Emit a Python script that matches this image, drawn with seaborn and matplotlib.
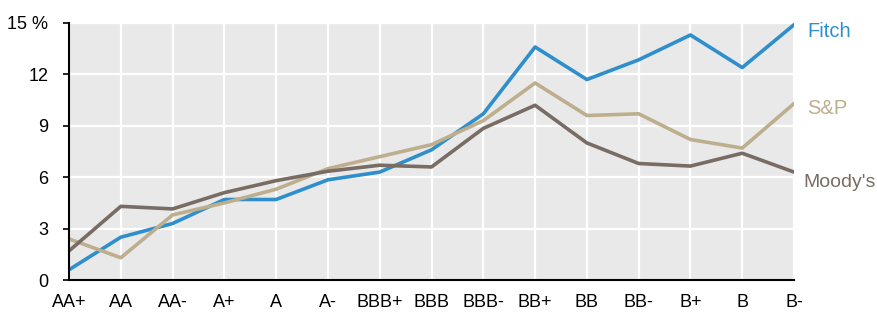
import numpy as np
import pandas as pd
import matplotlib.pyplot as plt
import seaborn as sns

# ratings on the x axis
ratings = ['AA+', 'AA', 'AA-', 'A+', 'A', 'A-', 'BBB+', 'BBB', 'BBB-',
           'BB+', 'BB', 'BB-', 'B+', 'B', 'B-']

fitch = [0.6, 2.5, 3.3, 4.7, 4.7, 5.85, 6.3, 7.6, 9.7, 13.6, 11.7, 12.85, 14.3, 12.4, 14.9]
sp = [2.4, 1.3, 3.8, 4.5, 5.3, 6.5, 7.2, 7.9, 9.3, 11.5, 9.6, 9.7, 8.2, 7.7, 10.3]
moodys = [1.7, 4.3, 4.15, 5.1, 5.8, 6.35, 6.7, 6.6, 8.85, 10.2, 8.0, 6.8, 6.65, 7.4, 6.3]

agencies = ['Fitch', 'S&P', "Moody's"]
colors = {'Fitch': '#2E8FCC', 'S&P': '#BDAE8E', "Moody's": '#786C64'}

yticks = [0, 3, 6, 9, 12, 15]
ytick_labels = ['0', '3', '6', '9', '12', '15 %']

df = pd.DataFrame({'pos': list(range(len(ratings))) * 3,
                   'value': fitch + sp + moodys,
                   'agency': np.repeat(agencies, len(ratings))})

sns.set_style('whitegrid', {'axes.facecolor': '#E9E9E9', 'grid.color': 'white'})
plt.rcParams['font.family'] = ['Liberation Sans', 'DejaVu Sans']

fig = plt.figure(figsize=(8.77, 3.15), dpi=100)
ax = fig.add_axes([0.0787, 0.111, 0.8267, 0.816])

sns.lineplot(data=df, x='pos', y='value', hue='agency', palette=colors,
             hue_order=agencies, linewidth=2.6, legend=False, ax=ax)

ax.set_xlim(0, len(ratings) - 1)
ax.set_ylim(0, 15)
ax.set_xticks(range(len(ratings)))
ax.set_xticklabels(ratings)
ax.set_yticks(yticks)
ax.set_yticklabels(ytick_labels)
ax.set_xlabel('')
ax.set_ylabel('')
ax.grid(True, color='white', linewidth=1.6)
ax.tick_params(axis='x', length=0, pad=10, labelsize=13, labelcolor='black')
ax.tick_params(axis='y', length=4, width=1.2, color='black', pad=11, labelsize=13,
               labelcolor='black', direction='out', left=True)

for side in ['top', 'right']:
    ax.spines[side].set_visible(False)
for side in ['left', 'bottom']:
    ax.spines[side].set_visible(True)
    ax.spines[side].set_color('black')
    ax.spines[side].set_linewidth(1.5)

# end labels next to the lines
last = len(ratings) - 1
ax.text(last + 0.25, 14.5, 'Fitch', color=colors['Fitch'], fontsize=14.5, va='center')
ax.text(last + 0.25, 10.0, 'S&P', color=colors['S&P'], fontsize=14.5, va='center')
ax.text(last + 0.18, 5.7, "Moody's", color=colors["Moody's"], fontsize=14, va='center')

fig.savefig('out.png', dpi=100)
